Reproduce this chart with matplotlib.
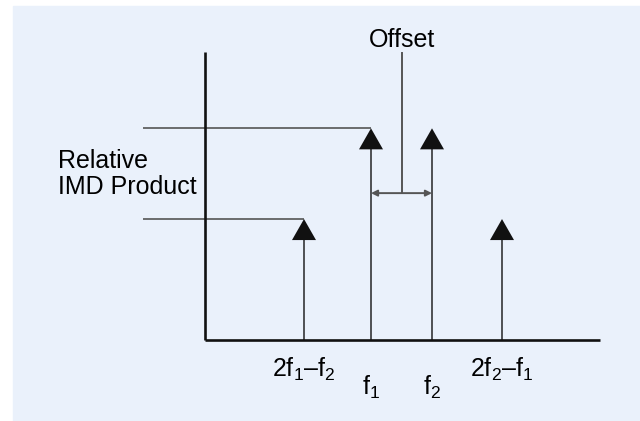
import matplotlib
matplotlib.use("Agg")
import matplotlib.pyplot as plt
from matplotlib.patches import Rectangle

plt.rcParams["font.family"] = ["Liberation Sans", "DejaVu Sans"]
plt.rcParams["mathtext.fontset"] = "custom"
plt.rcParams["mathtext.rm"] = "Liberation Sans"

# ========= データ（スペクトルの模式図） =========
tone_names = ["2f$_\\mathregular{1}$–f$_\\mathregular{2}$", "f$_\\mathregular{1}$",
              "f$_\\mathregular{2}$", "2f$_\\mathregular{2}$–f$_\\mathregular{1}$"]
tone_freqs = [9.9, 16.6, 22.7, 29.7]
tone_levels = [42.0, 73.5, 73.5, 42.0]
label_rows = [0, 1, 1, 0]   # 0 = 上段, 1 = 下段 (f1, f2)
ref_levels = [73.5, 42.0]   # 左から伸びる参照線
ref_ends = [16.6, 9.9]
offset_level = 51.0

BG = "#eaf1fb"
LINE = "#111111"
GREY = "#555555"
FS = 18

fig = plt.figure(figsize=(6.4, 4.21), dpi=100)
fig.patches.append(Rectangle((13 / 640, 0), 627 / 640, 415 / 421,
                             transform=fig.transFigure, color=BG, zorder=-5))

ax = fig.add_axes([205 / 640, 81 / 421, 395 / 640, 288 / 421])
ax.set_zorder(2)
ax.set_facecolor("none")
ax.set_xlim(0, 39.5)
ax.set_ylim(0, 100)
for side in ["top", "right"]:
    ax.spines[side].set_visible(False)
for side in ["left", "bottom"]:
    ax.spines[side].set_linewidth(1.9)
    ax.spines[side].set_color(LINE)
    ax.spines[side].set_capstyle("butt")
ax.set_xticks([])
ax.set_yticks([])

# 参照線
for lvl, xe in zip(ref_levels, ref_ends):
    ax.plot([-6.2, xe], [lvl, lvl], color=GREY, lw=1.2, clip_on=False,
            solid_capstyle="butt")

# トーン矢印
for f, lvl in zip(tone_freqs, tone_levels):
    ax.arrow(f, 0, 0, lvl, width=0.14, head_width=2.4, head_length=7.3,
             length_includes_head=True, fc=LINE, ec="none", zorder=3)

# ラベル
for name, f, row in zip(tone_names, tone_freqs, label_rows):
    y = -5.6 if row == 0 else -11.8
    ax.text(f, y, name, ha="center", va="top", fontsize=FS, clip_on=False)

# オフセット
mid = (tone_freqs[1] + tone_freqs[2]) / 2
ax.annotate("", xy=(tone_freqs[1], offset_level), xytext=(tone_freqs[2], offset_level),
            arrowprops=dict(arrowstyle="<|-|>", color=GREY, lw=1.4,
                            mutation_scale=9, shrinkA=0, shrinkB=0))
ax.plot([mid, mid], [offset_level, 99.5], color=GREY, lw=1.4, clip_on=False)
ax.text(mid, 104.2, "Offset", ha="center", va="center", fontsize=FS, clip_on=False)

ax.text(-14.7, 57.6, "Relative\nIMD Product", ha="left", va="center",
        fontsize=FS, linespacing=1.1, clip_on=False)

fig.savefig("out.png", dpi=100, facecolor="white")
